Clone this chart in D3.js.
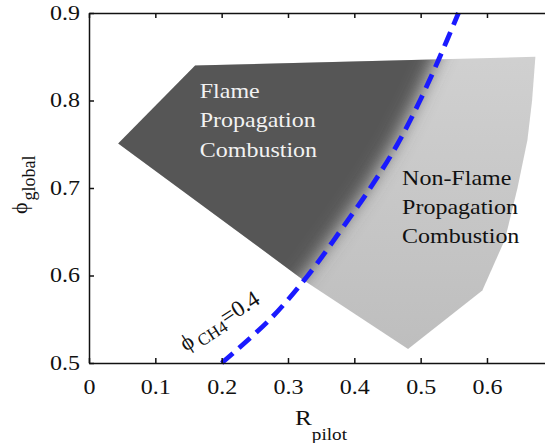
<!DOCTYPE html>
<html>
<head>
<meta charset="utf-8">
<script src="https://cdn.jsdelivr.net/npm/d3@7"></script>
<style>
  body { margin: 0; background: #fff; }
  svg { display: block; font-family: "Liberation Serif", "DejaVu Serif", serif; }
</style>
</head>
<body>
<div id="chart"></div>
<script>
// tick values
var xTicks = [0, 0.1, 0.2, 0.3, 0.4, 0.5, 0.6];
var yTicks = [0.5, 0.6, 0.7, 0.8, 0.9];

// phi_CH4 = 0.4 line (R_pilot vs phi_global)
var linePhi = [0.5, 0.55, 0.6, 0.65, 0.7, 0.75, 0.8, 0.85, 0.9];
var lineR   = [0.200, 0.273, 0.330, 0.378, 0.424, 0.465, 0.499, 0.529, 0.557];

// outline of the whole shaded region (both regimes)
var regionR   = [0.044, 0.160, 0.673, 0.668, 0.661, 0.646, 0.627, 0.593, 0.481, 0.323];
var regionPhi = [0.751, 0.840, 0.850, 0.800, 0.755, 0.700, 0.641, 0.583, 0.516, 0.595];

// region labels
var flameLines = ["Flame", "Propagation", "Combustion"];
var nonFlameLines = ["Non-Flame", "Propagation", "Combustion"];

var FONT = "'Liberation Serif', 'DejaVu Serif', serif";
var w = 545, h = 443;
var svg = d3.select("#chart").append("svg").attr("width", w).attr("height", h);

var x = d3.scaleLinear().domain([0, 0.7]).range([89, 89 + 0.7 * 663.3]);
var y = d3.scaleLinear().domain([0.5, 0.9]).range([363, 13]);

var defs = svg.append("defs");
defs.append("clipPath").attr("id", "region")
  .append("path")
  .attr("d", d3.line()(regionR.map(function(r, i) { return [x(r), y(regionPhi[i])]; })) + "Z");
defs.append("filter").attr("id", "blur")
  .attr("x", "-20%").attr("y", "-20%").attr("width", "140%").attr("height", "140%")
  .append("feGaussianBlur").attr("stdDeviation", 9);
var grad = defs.append("linearGradient").attr("id", "lightGrad")
  .attr("x1", 0).attr("y1", 0).attr("x2", 0).attr("y2", 1);
grad.append("stop").attr("offset", "0%").attr("stop-color", "#d3d3d3");
grad.append("stop").attr("offset", "100%").attr("stop-color", "#bdbdbd");

// light region (whole outline)
var shade = svg.append("g").attr("clip-path", "url(#region)");
shade.append("rect")
  .attr("x", x(0)).attr("y", y(0.9))
  .attr("width", x(0.7) - x(0)).attr("height", y(0.5) - y(0.9))
  .attr("fill", "url(#lightGrad)");

// dark region: everything left of the line, blurred at the edge, clipped
var darkPts = linePhi.map(function(p, i) { return [x(lineR[i] - 0.005), y(p)]; });
darkPts.unshift([x(0.12), y(0.42)]);
darkPts.push([x(0.59), y(0.95)], [x(-0.2), y(0.95)], [x(-0.2), y(0.42)]);
shade.append("path")
  .attr("d", d3.line()(darkPts) + "Z")
  .attr("fill", "#575757")
  .attr("filter", "url(#blur)");

// dashed line
svg.append("path")
  .datum(linePhi.map(function(p, i) { return [lineR[i], p]; }))
  .attr("fill", "none")
  .attr("stroke", "#1a1aff")
  .attr("stroke-width", 4.8)
  .attr("stroke-dasharray", "15,8")
  .attr("d", d3.line().x(function(d) { return x(d[0]); }).y(function(d) { return y(d[1]); })
    .curve(d3.curveCatmullRom));

// axes
function styleAxis(g) {
  g.attr("font-family", FONT);
  g.selectAll("path, line").attr("stroke", "#111").attr("stroke-width", 1.5);
  g.selectAll("text").attr("fill", "#111").attr("font-size", 20).attr("font-family", FONT);
}
svg.append("g").attr("transform", "translate(0," + y(0.5) + ")")
  .call(d3.axisBottom(x).tickValues(xTicks).tickSize(-5).tickSizeOuter(0)
    .tickFormat(function(d) { return d === 0 ? "0" : d.toFixed(1); }))
  .call(styleAxis)
  .call(function(g) {
    g.selectAll("text").attr("y", 17).attr("transform", "scale(1.2,1)");
  });
svg.append("g").attr("transform", "translate(0," + y(0.9) + ")")
  .call(d3.axisTop(x).tickValues(xTicks).tickSize(-5).tickSizeOuter(0).tickFormat(""))
  .call(styleAxis);
svg.append("g").attr("transform", "translate(" + x(0) + ",0)")
  .call(d3.axisLeft(y).tickValues(yTicks).tickSize(-5).tickSizeOuter(0)
    .tickFormat(function(d) { return d.toFixed(1); }))
  .call(styleAxis)
  .call(function(g) {
    g.selectAll("text").attr("x", -7.5).attr("transform", "scale(1.2,1)");
  });

// region labels
function block(lines, r, phi, color) {
  var t = svg.append("text")
    .attr("transform", "translate(" + x(r) + "," + y(phi) + ") scale(1.2,1)")
    .attr("font-family", FONT).attr("font-size", 20).attr("fill", color);
  lines.forEach(function(s, i) {
    t.append("tspan").attr("x", 0).attr("y", i * 29.5).text(s);
  });
}
block(flameLines, 0.167, 0.803, "#f2f2f2");
block(nonFlameLines, 0.472, 0.704, "#111");

// line label
var lab = svg.append("text")
  .attr("transform", "translate(" + x(0.146) + "," + y(0.513) + ") rotate(-33)")
  .attr("font-family", FONT).attr("font-size", 23).attr("fill", "#111");
lab.append("tspan").text("\u03d5");
lab.append("tspan").attr("font-size", 17).attr("dx", 4).attr("dy", 5).text("CH4");
lab.append("tspan").attr("dy", -5).text("=0.4");

// axis titles
var xt = svg.append("text")
  .attr("transform", "translate(295,425) scale(1.2,1)")
  .attr("font-family", FONT).attr("font-size", 21).attr("fill", "#111");
xt.append("tspan").text("R");
xt.append("tspan").attr("font-size", 16).attr("dy", 15).text("pilot");

var yt = svg.append("text")
  .attr("transform", "translate(27,214) rotate(-90)")
  .attr("font-family", FONT).attr("font-size", 22).attr("fill", "#111");
yt.append("tspan").text("\u03d5");
yt.append("tspan").attr("font-size", 18).attr("dy", 8).attr("dx", 2).text("global");
</script>
</body>
</html>
